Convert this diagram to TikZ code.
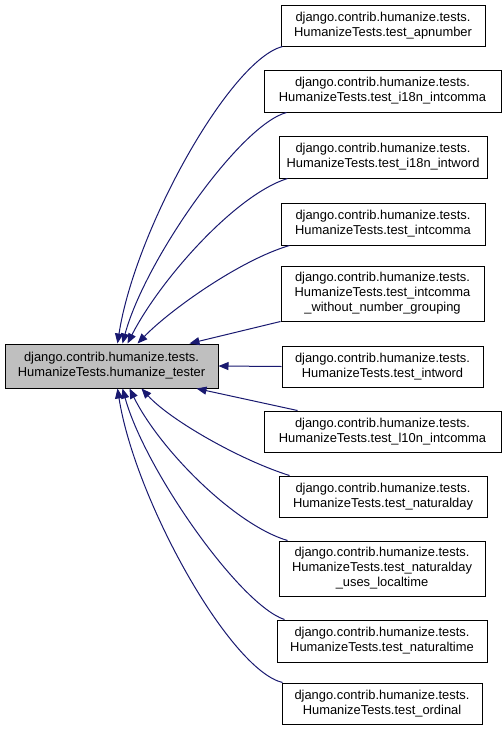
\documentclass[tikz,border=0pt]{standalone}
\usepackage{fontspec}
\setmainfont{Liberation Sans}
\usetikzlibrary{arrows.meta}
\definecolor{edgeblue}{HTML}{191970}
\definecolor{maingray}{HTML}{BFBFBF}
\begin{document}
\begin{tikzpicture}[x=1pt,y=-1pt,
  box/.style={draw=black, line width=1pt, fill=white, align=center, inner sep=0pt,
    font=\fontsize{12.9}{15}\selectfont},
  mainbox/.style={box, fill=maingray},
  edge/.style={draw=edgeblue, line width=1pt, -{Triangle[length=10pt,width=8pt]}}]
\useasboundingbox (0,0) rectangle (504,732);
\fill[white] (0,0) rectangle (504,732);
\node[mainbox, minimum width=213pt, minimum height=44pt] (main) at (111.5,366) {django.contrib.humanize.tests.\\HumanizeTests.humanize\_tester};
\node[box, minimum width=204pt, minimum height=41pt] (b1) at (383,25.5) {django.contrib.humanize.tests.\\HumanizeTests.test\_apnumber};
\node[box, minimum width=237pt, minimum height=42pt] (b2) at (382.5,91) {django.contrib.humanize.tests.\\HumanizeTests.test\_i18n\_intcomma};
\node[box, minimum width=208pt, minimum height=42pt] (b3) at (383,157) {django.contrib.humanize.tests.\\HumanizeTests.test\_i18n\_intword};
\node[box, minimum width=204pt, minimum height=42pt] (b4) at (383,224) {django.contrib.humanize.tests.\\HumanizeTests.test\_intcomma};
\node[box, minimum width=203pt, minimum height=55pt] (b5) at (382.5,293.5) {django.contrib.humanize.tests.\\HumanizeTests.test\_intcomma\\\_without\_number\_grouping};
\node[box, minimum width=201pt, minimum height=41pt] (b6) at (382.5,366.5) {django.contrib.humanize.tests.\\HumanizeTests.test\_intword};
\node[box, minimum width=237pt, minimum height=41pt] (b7) at (382.5,431.5) {django.contrib.humanize.tests.\\HumanizeTests.test\_l10n\_intcomma};
\node[box, minimum width=208pt, minimum height=41pt] (b8) at (383,496.5) {django.contrib.humanize.tests.\\HumanizeTests.test\_naturalday};
\node[box, minimum width=206pt, minimum height=55pt] (b9) at (382,568.5) {django.contrib.humanize.tests.\\HumanizeTests.test\_naturalday\\\_uses\_localtime};
\node[box, minimum width=210pt, minimum height=42pt] (b10) at (382,641) {django.contrib.humanize.tests.\\HumanizeTests.test\_naturaltime};
\node[box, minimum width=200pt, minimum height=41pt] (b11) at (382,703.5) {django.contrib.humanize.tests.\\HumanizeTests.test\_ordinal};
% edges to top of main
\draw[edge] ([xshift=2pt]b1.south west) .. controls (230,60) and (135,230) .. ([xshift=113pt]main.north west);
\draw[edge] ([xshift=23pt]b2.south west) .. controls (240,125) and (145,260) .. ([xshift=118pt]main.north west);
\draw[edge] ([xshift=9pt]b3.south west) .. controls (235,195) and (160,280) .. ([xshift=123pt]main.north west);
\draw[edge] ([xshift=9pt]b4.south west) .. controls (240,260) and (170,310) .. ([xshift=133pt]main.north west);
\draw[edge] (b5.south west) -- ([xshift=185pt]main.north west);
\draw[edge] (b6.west) -- (main.east);
% edges to bottom of main
\draw[edge] ([xshift=34pt]b7.north west) -- ([xshift=192pt]main.south west);
\draw[edge] ([xshift=11pt]b8.north west) .. controls (240,460) and (170,420) .. ([xshift=137pt]main.south west);
\draw[edge] ([xshift=9pt]b9.north west) .. controls (235,525) and (160,450) .. ([xshift=125pt]main.south west);
\draw[edge] ([xshift=8pt]b10.north west) .. controls (240,605) and (145,470) .. ([xshift=118pt]main.south west);
\draw[edge] ([xshift=1pt]b11.north west) .. controls (230,670) and (135,500) .. ([xshift=113pt]main.south west);
\end{tikzpicture}
\end{document}
